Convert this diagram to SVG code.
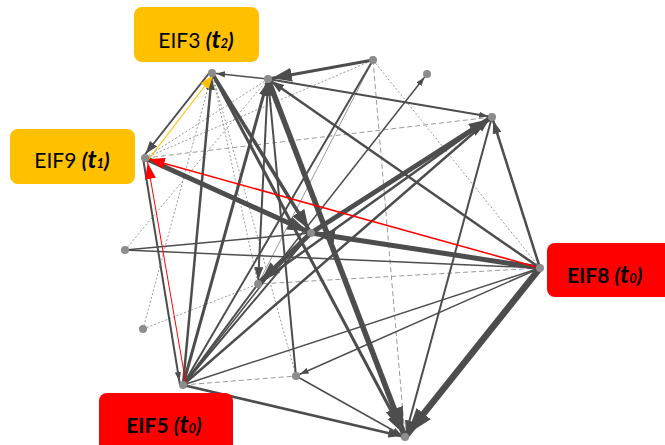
<svg xmlns="http://www.w3.org/2000/svg" width="665" height="445" viewBox="0 0 665 445">
<style>
.e{stroke:#4d4d4d;fill:none;stroke-linecap:butt}
.g{stroke:#9a9a9a;stroke-width:1;fill:none}
.dot{stroke-dasharray:2 2}
.dash{stroke-dasharray:5 3}
.nd{fill:#8c8c8c}
.lbl{font-family:Lato,"Liberation Sans",sans-serif;font-size:21px;fill:#000}
.bi{font-weight:bold;font-style:italic}
.b{font-weight:bold}
</style>
<defs>
<marker id="as" viewBox="0 0 20 14" markerUnits="userSpaceOnUse" markerWidth="9" markerHeight="7" refX="29" refY="7" orient="auto"><path d="M0,0 L20,7 L0,14 z" fill="#4d4d4d"/></marker>
<marker id="am" viewBox="0 0 20 14" markerUnits="userSpaceOnUse" markerWidth="13" markerHeight="10" refX="26" refY="7" orient="auto"><path d="M0,0 L20,7 L0,14 z" fill="#4d4d4d"/></marker>
<marker id="al" viewBox="0 0 20 14" markerUnits="userSpaceOnUse" markerWidth="20" markerHeight="15" refX="24" refY="7" orient="auto"><path d="M0,0 L20,7 L0,14 z" fill="#4d4d4d"/></marker>
<marker id="ax" viewBox="0 0 20 14" markerUnits="userSpaceOnUse" markerWidth="26" markerHeight="20" refX="23" refY="7" orient="auto"><path d="M0,0 L20,7 L0,14 z" fill="#4d4d4d"/></marker>
<marker id="ar" viewBox="0 0 20 14" markerUnits="userSpaceOnUse" markerWidth="16" markerHeight="13" refX="25" refY="7" orient="auto"><path d="M0,0 L20,7 L0,14 z" fill="#ff0000"/></marker>
<marker id="ay" viewBox="0 0 20 14" markerUnits="userSpaceOnUse" markerWidth="14" markerHeight="13" refX="22" refY="7" orient="auto"><path d="M0,0 L20,7 L0,14 z" fill="#ffc000"/></marker>
</defs>
<g id="connectors">
<line class="g dot" x1="145" y1="158" x2="268" y2="79"/>
<line class="g dash" x1="145" y1="158" x2="492" y2="117"/>
<line class="g dot" x1="145" y1="158" x2="373" y2="60"/>
<line class="g dot" x1="125" y1="250" x2="268" y2="79"/>
<line class="g dot" x1="212" y1="73" x2="143" y2="329"/>
<line class="g dot" x1="143" y1="329" x2="258" y2="284"/>
<line class="g dot" x1="212" y1="73" x2="296" y2="376"/>
<line class="g dot" x1="212" y1="73" x2="258" y2="284"/>
<line class="g dash" x1="373" y1="60" x2="405" y2="437"/>
<line class="g dot" x1="373" y1="60" x2="540" y2="268"/>
<line class="g dash" x1="540" y1="268" x2="258" y2="284"/>
<line class="g dash" x1="183" y1="385" x2="296" y2="376"/>
<line class="g" x1="373" y1="60" x2="258" y2="284"/>
<line class="e" stroke-width="1.5" x1="183" y1="385" x2="540" y2="268"/>
<line class="e" stroke-width="1.5" x1="125" y1="250" x2="311" y2="233"/>
<line class="e" stroke-width="1.5" x1="125" y1="250" x2="540" y2="268"/>
<line class="e" stroke-width="2" x1="183" y1="385" x2="373" y2="60"/>
<line class="e" stroke-width="2" x1="183" y1="385" x2="311" y2="233"/>
<line class="e" stroke-width="2" x1="183" y1="385" x2="258" y2="284"/>
<line class="e" stroke-width="1.5" x1="183" y1="385" x2="427" y2="74" marker-end="url(#as)"/>
<line class="e" stroke-width="2" x1="210" y1="72" x2="143" y2="157" marker-end="url(#am)"/>
<line class="e" stroke-width="1.5" x1="268" y1="79" x2="212" y2="73" marker-end="url(#as)"/>
<line class="e" stroke-width="2.5" x1="183" y1="385" x2="212" y2="73" marker-end="url(#am)"/>
<line class="e" stroke-width="3.5" x1="212" y1="73" x2="311" y2="233" marker-end="url(#al)"/>
<line class="e" stroke-width="3" x1="212" y1="73" x2="405" y2="437" marker-end="url(#al)"/>
<line class="e" stroke-width="5.5" x1="268" y1="79" x2="405" y2="437" marker-end="url(#ax)"/>
<line class="e" stroke-width="3" x1="373" y1="60" x2="268" y2="79" marker-end="url(#al)"/>
<line class="e" stroke-width="2" x1="268" y1="79" x2="492" y2="117" marker-end="url(#as)"/>
<line class="e" stroke-width="2.5" x1="540" y1="268" x2="268" y2="79" marker-end="url(#am)"/>
<line class="e" stroke-width="2" x1="268" y1="79" x2="258" y2="284" marker-end="url(#am)"/>
<line class="e" stroke-width="2" x1="296" y1="376" x2="268" y2="79" marker-end="url(#am)"/>
<line class="e" stroke-width="3" x1="183" y1="385" x2="268" y2="79" marker-end="url(#am)"/>
<line class="e" stroke-width="5" x1="145" y1="158" x2="311" y2="233" marker-end="url(#al)"/>
<line class="e" stroke-width="2" x1="143" y1="158" x2="180" y2="385" marker-end="url(#as)"/>
<line class="e" stroke-width="5" x1="540" y1="268" x2="311" y2="233" marker-end="url(#al)"/>
<line class="e" stroke-width="5" x1="311" y1="233" x2="492" y2="117" marker-end="url(#al)"/>
<line class="e" stroke-width="5" x1="311" y1="233" x2="258" y2="284" marker-end="url(#al)"/>
<line class="e" stroke-width="2.5" x1="258" y1="284" x2="492" y2="117" marker-end="url(#am)"/>
<line class="e" stroke-width="2.5" x1="183" y1="385" x2="492" y2="117" marker-end="url(#am)"/>
<line class="e" stroke-width="2.5" x1="540" y1="268" x2="492" y2="117" marker-end="url(#am)"/>
<line class="e" stroke-width="2" x1="492" y1="117" x2="405" y2="437" marker-end="url(#am)"/>
<line class="e" stroke-width="6.5" x1="540" y1="268" x2="405" y2="437" marker-end="url(#ax)"/>
<line class="e" stroke-width="1.5" x1="296" y1="376" x2="405" y2="437" marker-end="url(#as)"/>
<line class="e" stroke-width="2.5" x1="183" y1="385" x2="405" y2="437" marker-end="url(#am)"/>
<line class="e" stroke-width="1.5" x1="540" y1="268" x2="296" y2="376" marker-end="url(#as)"/>
<line stroke="#ff0000" stroke-width="1.5" x1="540" y1="268" x2="145" y2="158" marker-end="url(#ar)"/>
<line stroke="#ff0000" stroke-width="1" x1="186" y1="384" x2="147" y2="159" marker-end="url(#ar)"/>
<line stroke="#ffc000" stroke-width="1.2" x1="148" y1="160" x2="214" y2="74" marker-end="url(#ay)"/>
</g>
<g id="EIF3">
<rect x="134" y="7" width="125" height="55" rx="8" fill="#ffc000"/>
<text class="lbl" x="196" y="48" text-anchor="middle">EIF3 <tspan class="bi">(<tspan font-size="25">t</tspan><tspan font-size="13">2</tspan>)</tspan></text>
<circle class="nd" cx="212" cy="73" r="4"/>
</g>
<g id="EIF9">
<rect x="10" y="129" width="125" height="55" rx="8" fill="#ffc000"/>
<text class="lbl" x="72" y="168" text-anchor="middle">EIF9 <tspan class="bi">(<tspan font-size="25">t</tspan><tspan font-size="13">1</tspan>)</tspan></text>
<circle class="nd" cx="145" cy="158" r="4"/>
</g>
<g id="EIF5">
<rect x="99" y="393" width="134" height="62" rx="8" fill="#ff0000"/>
<text class="lbl b" x="164" y="433" text-anchor="middle">EIF5 <tspan font-style="italic">(<tspan font-size="25">t</tspan><tspan font-size="13">0</tspan>)</tspan></text>
<circle class="nd" cx="183" cy="385" r="4"/>
</g>
<g id="EIF8">
<rect x="547" y="243" width="130" height="54" rx="8" fill="#ff0000"/>
<text class="lbl b" x="567" y="283">EIF8 <tspan font-style="italic">(<tspan font-size="25">t</tspan><tspan font-size="13">0</tspan>)</tspan></text>
<circle class="nd" cx="540" cy="268" r="4"/>
</g>
<g id="nB"><circle class="nd" cx="268" cy="79" r="4"/></g>
<g id="nD"><circle class="nd" cx="373" cy="60" r="4"/></g>
<g id="nE"><circle class="nd" cx="427" cy="74" r="4"/></g>
<g id="nF"><circle class="nd" cx="492" cy="117" r="4"/></g>
<g id="nG"><circle class="nd" cx="311" cy="233" r="4"/></g>
<g id="nH"><circle class="nd" cx="258" cy="284" r="4"/></g>
<g id="nI"><circle class="nd" cx="125" cy="250" r="4"/></g>
<g id="nJ"><circle class="nd" cx="143" cy="329" r="4"/></g>
<g id="nL"><circle class="nd" cx="296" cy="376" r="4"/></g>
<g id="nN"><circle class="nd" cx="405" cy="437" r="4"/></g>
</svg>
